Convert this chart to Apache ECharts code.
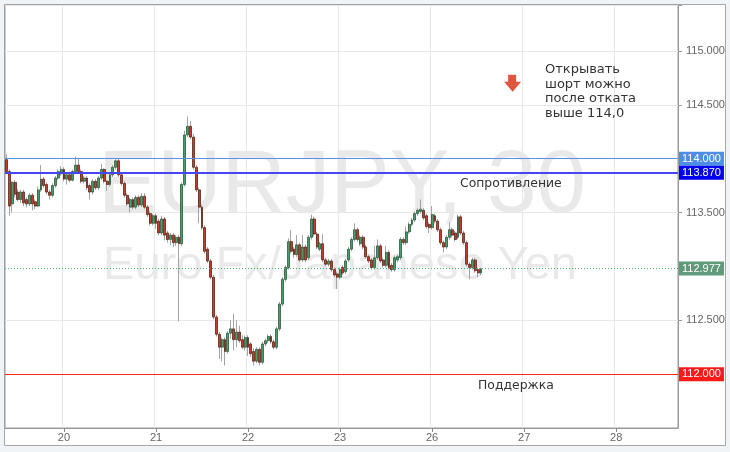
<!DOCTYPE html>
<html><head><meta charset="utf-8">
<script src="https://cdn.jsdelivr.net/npm/echarts@6/dist/echarts.min.js"></script>
<style>html,body{margin:0;padding:0;background:#f1f4f7}#c{width:730px;height:452px}</style>
</head><body><div id="c"></div><script>
// ---- data (30-min candles, EURJPY) ----
const opens=[113.99,113.88,113.58,113.78,113.69,113.62,113.69,113.62,113.58,113.66,
113.60,113.56,113.71,113.81,113.76,113.69,113.66,113.75,113.82,113.86,
113.90,113.81,113.85,113.80,113.88,113.94,113.88,113.79,113.82,113.75,
113.69,113.79,113.73,113.82,113.90,113.79,113.76,113.85,113.92,113.98,
113.85,113.77,113.66,113.55,113.62,113.55,113.64,113.57,113.65,113.55,
113.49,113.40,113.47,113.42,113.31,113.44,113.31,113.25,113.29,113.22,
113.27,113.21,113.76,114.22,114.30,114.20,113.92,113.71,113.55,113.36,
113.16,113.05,112.90,112.53,112.37,112.25,112.32,112.21,112.38,112.42,
112.32,112.39,112.32,112.25,112.34,112.28,112.21,112.12,112.23,112.11,
112.28,112.31,112.35,112.30,112.25,112.42,112.65,112.88,112.99,113.23,
113.16,113.11,113.20,113.06,113.18,113.08,113.27,113.44,113.30,113.16,
113.21,113.06,113.02,113.05,112.97,112.93,112.90,112.99,112.95,113.06,
113.16,113.25,113.34,113.21,113.27,113.18,113.09,113.06,112.99,113.08,
113.19,113.06,113.01,113.13,113.01,112.97,113.06,113.08,113.25,113.22,
113.32,113.39,113.43,113.49,113.51,113.52,113.47,113.39,113.36,113.47,
113.42,113.34,113.22,113.18,113.27,113.34,113.31,113.27,113.46,113.31,
113.22,113.02,112.99,113.06,112.97,112.94];
const closes=[113.88,113.56,113.78,113.67,113.62,113.69,113.59,113.58,113.66,113.58,
113.56,113.71,113.81,113.75,113.69,113.66,113.75,113.82,113.88,113.90,
113.81,113.85,113.80,113.88,113.94,113.88,113.79,113.82,113.73,113.69,
113.79,113.73,113.82,113.90,113.79,113.76,113.85,113.92,113.98,113.85,
113.77,113.66,113.58,113.62,113.55,113.64,113.57,113.65,113.55,113.48,
113.40,113.47,113.40,113.31,113.44,113.29,113.25,113.29,113.22,113.27,
113.21,113.76,114.22,114.30,114.20,113.92,113.71,113.55,113.36,113.14,
113.05,112.90,112.53,112.37,112.25,112.32,112.21,112.38,112.42,112.32,
112.39,112.31,112.25,112.34,112.25,112.19,112.12,112.23,112.11,112.28,
112.31,112.35,112.30,112.25,112.42,112.65,112.88,112.99,113.23,113.14,
113.11,113.20,113.06,113.18,113.06,113.27,113.44,113.30,113.18,113.21,
113.06,113.02,113.05,112.97,112.92,112.90,112.97,112.94,113.05,113.16,
113.25,113.34,113.25,113.27,113.18,113.09,113.05,112.99,113.08,113.19,
113.05,113.01,113.13,112.99,112.97,113.08,113.09,113.25,113.22,113.32,
113.39,113.43,113.49,113.52,113.53,113.45,113.37,113.36,113.48,113.42,
113.34,113.22,113.18,113.27,113.34,113.29,113.25,113.46,113.31,113.22,
113.02,112.99,113.06,112.96,112.94,112.977];
const lows=[113.86,113.47,113.50,113.64,113.60,113.59,113.56,113.55,113.56,113.52,
113.53,113.55,113.69,113.73,113.67,113.62,113.64,113.73,113.80,113.84,
113.79,113.76,113.78,113.79,113.86,113.86,113.77,113.77,113.71,113.62,
113.67,113.71,113.71,113.80,113.77,113.70,113.74,113.83,113.90,113.83,
113.75,113.64,113.56,113.50,113.53,113.53,113.55,113.55,113.53,113.46,
113.38,113.38,113.35,113.29,113.29,113.24,113.22,113.20,113.18,113.19,
112.49,113.19,113.74,114.20,114.18,113.90,113.69,113.40,113.34,113.12,
113.03,112.88,112.51,112.35,112.14,112.12,112.08,112.19,112.33,112.22,
112.25,112.29,112.23,112.22,112.17,112.16,112.08,112.10,112.08,112.09,
112.26,112.29,112.28,112.23,112.23,112.40,112.63,112.86,112.97,113.12,
113.08,113.09,113.04,113.04,113.04,113.06,113.25,113.28,113.16,113.14,
113.04,113.00,113.00,112.95,112.90,112.79,112.88,112.92,112.93,113.04,
113.14,113.23,113.23,113.19,113.16,113.07,113.03,112.97,112.97,113.06,
113.03,112.99,112.99,112.97,112.95,112.95,113.04,113.06,113.20,113.20,
113.30,113.37,113.41,113.47,113.49,113.43,113.35,113.31,113.34,113.40,
113.32,113.20,113.13,113.16,113.25,113.27,113.23,113.25,113.29,113.20,
113.00,112.88,112.97,112.94,112.90,112.92];
const highs=[114.04,113.90,113.79,113.80,113.72,113.71,113.71,113.64,113.68,113.68,
113.62,113.74,113.94,113.83,113.78,113.71,113.77,113.84,113.90,113.93,
113.92,113.87,113.88,113.90,114.02,114.01,113.90,113.84,113.84,113.77,
113.81,113.81,113.84,113.95,113.91,113.80,113.87,113.94,114.00,114.00,
113.87,113.79,113.68,113.64,113.64,113.66,113.66,113.68,113.68,113.57,
113.51,113.49,113.49,113.44,113.47,113.46,113.33,113.31,113.31,113.29,
113.29,113.78,114.26,114.39,114.35,114.23,113.94,113.73,113.57,113.38,
113.18,113.07,112.92,112.55,112.39,112.34,112.34,112.40,112.50,112.56,
112.50,112.45,112.36,112.36,112.36,112.30,112.24,112.25,112.25,112.30,
112.33,112.37,112.37,112.32,112.44,112.67,112.90,113.01,113.26,113.34,
113.18,113.29,113.22,113.29,113.20,113.29,113.48,113.46,113.32,113.23,
113.30,113.08,113.07,113.07,112.99,112.95,112.99,113.01,113.07,113.18,
113.27,113.40,113.36,113.29,113.29,113.20,113.11,113.08,113.19,113.25,
113.21,113.08,113.19,113.15,113.03,113.10,113.11,113.27,113.27,113.37,
113.41,113.45,113.51,113.54,113.62,113.54,113.49,113.41,113.56,113.49,
113.44,113.36,113.24,113.29,113.41,113.36,113.33,113.48,113.48,113.33,
113.24,113.04,113.08,113.08,112.99,112.99];
const dayLabels=['20','21','22','23','26','27','28'];
const levels=[114.000,113.870,112.977,112.000];
const levelLabels=['114.000','113.870','112.977','112.000'];
const resistanceText='Сопротивление';
const supportText='Поддержка';
const noteText='Открывать\nшорт можно\nпосле отката\nвыше 114,0';
const arrowPoint={slot:176, price:114.70};

// ---- axis structure ----
const slotsBefore=20, slotsPerDay=32, totalSlots=234;
const categories=[]; const dayStart={};
for(let i=0;i<totalSlots;i++){
  if(i<slotsBefore){categories.push('19-'+i);continue;}
  const d=Math.floor((i-slotsBefore)/slotsPerDay), k=(i-slotsBefore)%slotsPerDay;
  const lab=(dayLabels[d]||'x')+'-'+k; categories.push(lab);
  if(k===0 && dayLabels[d]) dayStart[i]=dayLabels[d];
}
const isDay=(i)=>dayStart[i]!==undefined;

const wickData=opens.map((o,i)=>[o,closes[i],lows[i],highs[i]]);
const bodyData=opens.map((o,i)=>[o,closes[i],Math.min(o,closes[i]),Math.max(o,closes[i])]);

const lineStyles=[
  {color:'#5b8fe8',width:1,type:'solid'},
  {color:'#4646f5',width:2,type:'solid'},
  {color:'#3fae6e',width:1,type:[1,2]},
  {color:'#ff1f1f',width:1,type:'solid'}];
const tagColors=['#4d8fe6','#0000ee','#5f9a7a','#ff1a1a'];

const chart=echarts.init(document.getElementById('c'),null,{renderer:'canvas'});
chart.setOption({
  animation:false,
  backgroundColor:'#f1f4f7',
  grid:{left:5,right:52,top:5,bottom:24,show:true,borderColor:'#9a9a9a',borderWidth:1,backgroundColor:'transparent'},
  graphic:[
    {type:'rect',z:-10,shape:{x:4.5,y:4.5,width:721,height:441},style:{fill:'#ffffff',stroke:'#a8a8a8',lineWidth:1}},
    {type:'text',z:-5,x:342,y:187,style:{text:'EURJPY, 30',font:'89px "Liberation Sans", Arial',fill:'#e9e9e9',textAlign:'center',textVerticalAlign:'middle',align:'center',verticalAlign:'middle'}},
    {type:'text',z:-5,x:340,y:266,style:{text:'Euro Fx/Japanese Yen',font:'47px "Liberation Sans", Arial',fill:'#e9e9e9',textAlign:'center',textVerticalAlign:'middle',align:'center',verticalAlign:'middle'}},
    {type:'text',z:10,x:460,y:184,style:{text:resistanceText,font:'12.4px "DejaVu Sans"',fill:'#333',textVerticalAlign:'middle',verticalAlign:'middle'}},
    {type:'text',z:10,x:478,y:386,style:{text:supportText,font:'12.4px "DejaVu Sans"',fill:'#333',textVerticalAlign:'middle',verticalAlign:'middle'}},
    {type:'text',z:10,x:545,y:62,style:{text:noteText,font:'13px "DejaVu Sans"',fill:'#333',lineHeight:14.8}}
  ],
  xAxis:{type:'category',data:categories,boundaryGap:true,
    axisLine:{show:true,lineStyle:{color:'#9a9a9a'}},
    axisTick:{show:true,alignWithLabel:true,interval:(i)=>isDay(i),length:4,lineStyle:{color:'#888'}},
    axisLabel:{interval:(i)=>isDay(i),formatter:(v,i)=>dayStart[i]||'',color:'#666',fontSize:11,margin:4,fontFamily:'"Liberation Sans", Arial'},
    splitLine:{show:true,interval:(i)=>isDay(i),lineStyle:{color:'#e8e8e8'}}},
  yAxis:{type:'value',position:'right',min:111.5,max:115.426,interval:0.5,scale:true,
    axisLine:{show:true,lineStyle:{color:'#9a9a9a'}},
    axisTick:{show:true,length:4,lineStyle:{color:'#999'}},
    axisLabel:{color:'#666',fontSize:11,margin:8,fontFamily:'"Liberation Sans", Arial',showMinLabel:false,
      formatter:(v)=>{const r=Math.round(v*2)/2; if(r===111.5||r===112||r===113||r===114||v>115.1) return ''; return v.toFixed(3);}},
    splitLine:{show:true,lineStyle:{color:['#e8e8e8','#e8e8e8','#e8e8e8','rgba(0,0,0,0)','#e8e8e8','#e8e8e8','#e8e8e8','#e8e8e8','#e8e8e8']}}},
  series:[
    {type:'candlestick',name:'wick',data:wickData,barWidth:1,silent:true,
      itemStyle:{color:'#a3a3a3',color0:'#a3a3a3',borderColor:'#a3a3a3',borderColor0:'#a3a3a3',borderWidth:1}},
    {type:'candlestick',name:'body',data:bodyData,barWidth:2.4,silent:true,
      itemStyle:{color:'#4a9d6a',color0:'#c43e2c',borderColor:'#2b5a3e',borderColor0:'#5e2419',borderWidth:0.8},
      markLine:{symbol:'none',silent:true,animation:false,
        label:{show:true,position:'end',distance:1,color:'#fff',fontSize:11,padding:[2,3,1,3],fontFamily:'"Liberation Sans", Arial'},
        data:levels.map((lv,k)=>({yAxis:lv,lineStyle:lineStyles[k],label:{formatter:levelLabels[k],backgroundColor:tagColors[k]}}))},
      markPoint:{silent:true,animation:false,
        data:[{coord:[categories[arrowPoint.slot],arrowPoint.price],symbol:'path://M4,0 L12,0 L12,7 L17,7 L8.5,17 L0,7 L4,7 Z',symbolSize:[17,17],
          itemStyle:{color:'#e0553d'},label:{show:false}}]}}
  ]
});
</script></body></html>
